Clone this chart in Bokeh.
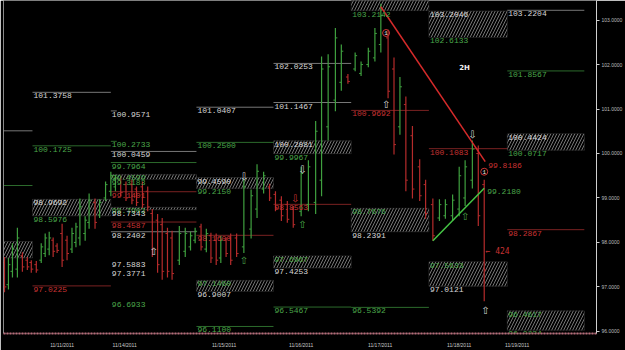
import numpy as np
from bokeh.plotting import figure
from bokeh.models import Range1d, ColumnDataSource, FixedTicker, Span, Label, NumeralTickFormatter
from bokeh.core.properties import value
from bokeh.embed import file_html
from bokeh.resources import INLINE

# ---------------- data ----------------
# bar time (2H bar slots), OHLC
bar_time = [0.15, 0.75, 1.36, 2.11, 2.87, 3.62, 4.22, 4.98, 5.73, 6.33, 6.94, 7.54, 8.14, 8.9, 9.65,
            10.4, 11.0, 11.6, 12.4, 13.0, 13.9, 14.6, 15.5, 16.3, 17.0, 17.8, 18.6, 19.5, 20.2, 21.1,
            21.9, 22.6, 23.4, 24.1, 24.9, 25.6, 26.7, 27.6, 28.4, 29.1, 30.0, 30.8, 31.5, 32.3, 33.0,
            33.8, 34.5, 35.4, 36.5, 37.6, 38.5, 39.5, 40.4, 41.3, 42.2, 43.1, 44.0, 45.2, 46.3, 47.4,
            48.3, 49.3, 50.4, 51.3, 52.3, 53.4, 54.3, 55.4, 56.4, 57.3, 58.4, 59.3, 60.2, 61.1, 62.1,
            63.2, 64.1, 65.2, 66.2, 67.1, 68.2, 69.2, 70.1, 71.2, 72.1, 73.0]
bar_high = [97.67, 97.65, 97.98, 98.33, 97.78, 97.67, 97.60, 97.58, 97.98, 98.20, 98.24, 98.11, 97.98, 98.42, 98.15,
            98.33, 98.44, 98.99, 98.59, 99.10, 98.99, 98.97, 99.37, 99.59, 99.52, 99.48, 99.37, 99.41, 99.26, 99.37,
            99.26, 98.75, 98.64, 98.55, 98.33, 98.26, 98.37, 98.33, 98.24, 98.33, 98.42, 98.31, 98.22, 98.20, 98.15,
            98.11, 98.20, 98.20, 99.43, 99.19, 99.76, 99.59, 99.32, 99.15, 99.04, 98.93, 98.82, 99.70, 99.85, 100.73,
            102.18, 102.23, 102.82, 102.45, 101.79, 102.27, 102.07, 102.38, 102.82, 103.37, 102.78, 102.16, 101.72, 101.28, 100.62,
            99.87, 99.41, 98.99, 98.97, 98.97, 99.08, 99.70, 99.85, 100.29, 100.18, 99.41]
bar_low = [96.88, 96.94, 97.21, 97.21, 97.34, 97.38, 97.32, 97.32, 97.54, 97.67, 97.71, 97.67, 97.76, 97.45, 97.60,
           97.76, 97.89, 97.93, 98.04, 98.31, 98.31, 98.55, 98.93, 99.04, 99.15, 99.04, 98.93, 98.86, 98.82, 98.77,
           98.70, 97.67, 97.32, 97.16, 97.21, 97.16, 97.49, 97.67, 97.82, 97.98, 97.82, 97.78, 97.54, 97.49, 97.54,
           97.67, 97.49, 97.67, 97.76, 98.09, 98.55, 99.10, 98.93, 98.70, 98.48, 98.44, 98.33, 98.59, 98.70, 98.64,
           99.04, 100.29, 100.95, 101.41, 101.57, 101.85, 101.74, 101.94, 102.07, 102.27, 101.24, 99.98, 100.42, 99.15, 98.99,
           98.93, 98.53, 98.04, 98.48, 98.53, 98.48, 98.59, 98.82, 99.21, 98.37, 96.68]
bar_open = [97.55, 97.05, 97.35, 97.40, 97.70, 97.60, 97.55, 97.50, 97.60, 97.75, 97.85, 98.05, 97.92, 98.20, 98.05,
            97.85, 98.00, 98.10, 98.20, 98.45, 98.90, 98.62, 99.00, 99.15, 99.25, 99.40, 99.30, 99.30, 99.20, 99.25,
            99.15, 98.65, 98.50, 98.40, 98.20, 98.10, 97.60, 97.80, 97.90, 98.05, 98.35, 97.85, 98.15, 98.05, 97.65,
            98.05, 98.10, 98.10, 97.90, 98.30, 98.75, 99.20, 99.25, 99.08, 98.95, 98.85, 98.75, 98.70, 98.85, 98.90,
            99.40, 100.60, 101.20, 101.60, 101.72, 101.90, 101.80, 102.00, 102.15, 102.45, 102.60, 101.90, 100.60, 101.10, 100.40,
            99.70, 99.30, 98.85, 98.55, 98.60, 98.60, 98.75, 99.00, 99.40, 100.00, 99.30]
bar_close = [97.00, 97.50, 97.85, 98.10, 97.45, 97.45, 97.40, 97.38, 97.90, 98.10, 98.10, 97.80, 97.82, 97.60, 97.75,
             98.20, 98.35, 98.80, 98.50, 98.95, 98.45, 98.90, 99.30, 99.50, 99.45, 99.12, 99.00, 98.95, 98.90, 98.85,
             98.80, 97.85, 97.50, 97.35, 97.35, 97.30, 98.20, 98.20, 98.15, 98.25, 97.90, 98.20, 97.65, 97.60, 98.05,
             97.75, 97.60, 97.75, 99.25, 99.05, 99.60, 99.50, 99.00, 98.78, 98.60, 98.52, 98.40, 99.55, 99.70, 100.50,
             101.90, 101.95, 102.60, 102.30, 101.62, 102.20, 102.00, 102.30, 102.70, 103.10, 101.40, 100.20, 101.50, 99.40, 99.20,
             99.05, 98.65, 98.15, 98.85, 98.85, 98.95, 99.50, 99.70, 100.10, 98.60, 97.38]

# sessions (start times of the level/zone blocks)
session_start = [0.0, 4.4, 16.3, 29.3, 41.0, 52.8, 64.6, 76.5, 88.2]

# date axis
date_ticks = [8.9, 18.4, 33.5, 45.2, 57.2, 69.2, 78.0]
date_labels = ["11/11/2011", "11/14/2011", "11/15/2011", "11/16/2011", "11/17/2011", "11/18/2011", "11/19/2011"]
price_ticks = [96, 97, 98, 99, 100, 101, 102, 103]

# hatched zones: session index, bottom, top
zone_session = [0, 1, 2, 2, 3, 3, 4, 4, 5, 5, 6, 6, 7, 7]
zone_bottom = [97.65, 98.5976, 99.42, 98.7343, 99.2150, 96.9007, 99.9967, 97.4253, 103.2142, 98.2391, 102.6133, 97.0121, 100.0717, 96.0234]
zone_top = [98.02, 98.9692, 99.53, 98.7902, 99.4590, 97.1460, 100.2881, 97.6967, 103.60, 98.7676, 103.2046, 97.5633, 100.4424, 96.4617]

# level lines spanning a whole session: session index, price, kind
line_session = [0, 0, 1, 1, 1, 2, 2, 2, 2, 2, 3, 3, 3, 3, 4, 4, 4, 4, 5, 5, 6, 7, 7, 7]
line_price = [100.51, 99.28, 101.3758, 100.1725, 97.0225, 100.0459, 99.7964, 99.1401, 98.4587, 98.2402,
              101.0407, 100.2500, 98.1600, 96.1100, 102.0253, 101.1467, 98.8563, 96.5467, 100.9692, 96.5392,
              100.1083, 103.2204, 101.8567, 98.2867]
line_kind = ["w", "g", "w", "g", "r", "w", "g", "r", "r", "w",
             "w", "g", "r", "g", "w", "w", "r", "g", "r", "g",
             "r", "w", "g", "r"]
# short level stubs
stub_start = [16.3, 16.3]
stub_end = [17.2, 17.2]
stub_price = [100.9571, 100.2733]
stub_kind = ["w", "g"]

# level labels: session index, price, text, kind
lab_session = [1, 1, 1, 1, 1,
               2, 2, 2, 2, 2, 2, 2, 2, 2, 2, 2, 2, 2, 2,
               3, 3, 3, 3, 3, 3, 3, 3,
               4, 4, 4, 4, 4, 4, 4, 4,
               5, 5, 5, 5, 5,
               6, 6, 6, 6, 6,
               7, 7, 7, 7, 7, 7, 7]
lab_price = [101.3758, 100.1725, 98.9692, 98.5976, 97.0225,
             100.9571, 100.2733, 100.0459, 99.7964, 99.53, 99.42, 99.1401, 98.7902, 98.7343, 98.4587, 98.2402, 97.5883, 97.3771, 96.6933,
             101.0407, 100.2500, 99.4590, 99.2150, 98.1600, 97.1460, 96.9007, 96.1100,
             102.0253, 101.1467, 100.2881, 99.9967, 98.8563, 97.6967, 97.4253, 96.5467,
             103.2142, 100.9692, 98.7676, 98.2391, 96.5392,
             103.2046, 102.6133, 100.1083, 97.5633, 97.0121,
             103.2204, 101.8567, 100.4424, 100.0717, 98.2867, 96.4617, 96.0234]
lab_text = ["101.3758", "100.1725", "98.9692", "98.5976", "97.0225",
            "100.9571", "100.2733", "100.0459", "99.7964", "99.4599", "99.3183", "99.1401", "98.7902", "98.7343", "98.4587", "98.2402", "97.5883", "97.3771", "96.6933",
            "101.0407", "100.2500", "99.4590", "99.2150", "98.1600", "97.1460", "96.9007", "96.1100",
            "102.0253", "101.1467", "100.2881", "99.9967", "98.8563", "97.6967", "97.4253", "96.5467",
            "103.2142", "100.9692", "98.7676", "98.2391", "96.5392",
            "103.2046", "102.6133", "100.1083", "97.5633", "97.0121",
            "103.2204", "101.8567", "100.4424", "100.0717", "98.2867", "96.4617", "96.0234"]
lab_kind = ["w", "g", "w", "g", "r",
            "w", "g", "w", "g", "g", "g", "r", "g", "w", "r", "w", "w", "w", "g",
            "w", "g", "w", "g", "r", "g", "w", "g",
            "w", "w", "w", "g", "r", "g", "w", "g",
            "g", "r", "g", "w", "g",
            "w", "g", "r", "g", "w",
            "w", "g", "w", "g", "r", "g", "g"]

# trend lines
red_trend_t = [57.3, 73.15]
red_trend_p = [103.30, 99.8186]
green_trend_t = [65.2, 73.0]
green_trend_p = [98.04, 99.2180]

# signal arrows: time, price, direction, kind
arrow_t = [22.8, 36.5, 36.5, 44.3, 45.4, 45.4, 58.1, 71.2, 70.1, 73.2]
arrow_p = [97.80, 99.48, 97.60, 98.99, 99.65, 98.40, 101.11, 100.42, 98.59, 96.48]
arrow_dir = ["up", "down", "up", "down", "down", "up", "up", "down", "up", "up"]
arrow_kind = ["w", "w", "g", "r", "w", "g", "w", "w", "g", "w"]

# numbered marks
mark_t = [58.1, 73.0]
mark_p = [102.71, 99.59]

last_price = 97.3833

# ---------------- styles ----------------
TEXT_COL = {"w": "#d6d6d6", "g": "#4aa64a", "r": "#c83232"}
LINE_COL = {"w": "#777777", "g": "#2c6a2c", "r": "#7a2222"}
UP_COL, DN_COL = "#3fa03f", "#b52b2b"
MONO = value("Liberation Mono")

p = figure(width=625, height=350, x_range=Range1d(0, 90.05), y_range=Range1d(95.952, 103.4405),
           output_backend="svg", toolbar_location=None, y_axis_location="right",
           min_border_left=3, min_border_right=25, min_border_top=0, min_border_bottom=10,
           background_fill_color="black", border_fill_color="black", outline_line_color=None)
p.xgrid.visible = False
p.ygrid.visible = False

# hatched zones
zs = ColumnDataSource(dict(
    left=[session_start[i] for i in zone_session],
    right=[session_start[i + 1] for i in zone_session],
    bottom=zone_bottom, top=zone_top))
p.quad(left="left", right="right", bottom="bottom", top="top", source=zs,
       fill_color="black", fill_alpha=1.0, line_color="#5a5a5a", line_alpha=0.6, line_width=0.5,
       hatch_pattern="right_diagonal_line", hatch_color="#8a8a8a", hatch_scale=6,
       hatch_weight=1, hatch_alpha=0.85)

# level lines
ls = ColumnDataSource(dict(
    x0=[session_start[i] for i in line_session] + stub_start,
    x1=[session_start[i + 1] for i in line_session] + stub_end,
    y=line_price + stub_price,
    c=[LINE_COL[k] for k in line_kind + stub_kind]))
p.segment(x0="x0", y0="y", x1="x1", y1="y", color="c", line_width=1, source=ls)

# bars
t = np.array(bar_time)
o = np.array(bar_open); h = np.array(bar_high); l = np.array(bar_low); c = np.array(bar_close)
cols = [UP_COL if cc >= oo else DN_COL for oo, cc in zip(o, c)]
bs = ColumnDataSource(dict(t=t, tl=t - 0.3, tr=t + 0.3, o=o, h=h, l=l, c=c, col=cols))
p.segment(x0="t", y0="l", x1="t", y1="h", color="col", line_width=1.2, source=bs)
p.segment(x0="tl", y0="o", x1="t", y1="o", color="col", line_width=1, source=bs)
p.segment(x0="t", y0="c", x1="tr", y1="c", color="col", line_width=1, source=bs)

# trend lines
p.line(red_trend_t, red_trend_p, line_color="#d42a2a", line_width=1.5)
p.line(green_trend_t, green_trend_p, line_color="#45c445", line_width=1.5)
p.text(x=[red_trend_t[-1]], y=[red_trend_p[-1]], text=["99.8186"], text_color=TEXT_COL["r"],
       text_font=MONO, text_font_size=value("8px"), text_baseline="top", x_offset=3, y_offset=1)
p.text(x=[green_trend_t[-1]], y=[green_trend_p[-1]], text=["99.2180"], text_color=TEXT_COL["g"],
       text_font=MONO, text_font_size=value("8px"), text_baseline="top", x_offset=3, y_offset=1)

# level labels
lab = ColumnDataSource(dict(
    x=[session_start[i] for i in lab_session], y=lab_price, text=lab_text,
    col=[TEXT_COL[k] for k in lab_kind]))
p.text(x="x", y="y", text="text", text_color="col", source=lab, text_font=MONO,
       text_font_size=value("8px"), text_baseline="top", text_align="left", x_offset=1, y_offset=1)

# arrows
ars = ColumnDataSource(dict(t=arrow_t, p=arrow_p,
                            ch=["\u21e7" if d == "up" else "\u21e9" for d in arrow_dir],
                            col=[TEXT_COL[k] for k in arrow_kind]))
p.text(x="t", y="p", text="ch", text_color="col", source=ars, text_font=value("DejaVu Sans"),
       text_font_size=value("10px"), text_align="center", text_baseline="middle")

# numbered marks
p.scatter(mark_t, mark_p, marker="circle", size=7, fill_color=None, line_color="#cc3434", line_width=1)
p.text(x=mark_t, y=mark_p, text=["1", "1"], text_color="#e6e6e6", text_font=MONO,
       text_font_size=value("6px"), text_align="center", text_baseline="middle")

# extra labels
p.text(x=[73.2], y=[97.80], text=["\u2190 424"], text_color=TEXT_COL["r"], text_font=value("DejaVu Sans Mono"),
       text_font_size=value("8px"), text_baseline="middle")
p.text(x=[69.2], y=[101.92], text=["2H"], text_color="#f0f0f0", text_font=value("DejaVu Sans"),
       text_font_size=value("7px"), text_font_style="bold", text_baseline="middle")

# left border line
p.add_layout(Span(location=0, dimension="height", line_color="#cfcfcf", line_width=1))

# right price axis
ya = p.yaxis[0]
ya.ticker = FixedTicker(ticks=price_ticks)
ya.formatter = NumeralTickFormatter(format="0.0000")
ya.major_label_text_font_size = "5px"
ya.major_label_text_color = "#bdbdbd"
ya.axis_line_color = "#d0d0d0"
ya.major_tick_line_color = "#d0d0d0"
ya.major_tick_out = 3
ya.major_tick_in = 0
ya.minor_tick_line_color = None
ya.major_label_standoff = 2

# bottom date axis
xa = p.xaxis[0]
xa.ticker = FixedTicker(ticks=date_ticks)
xa.major_label_overrides = {tk: lb for tk, lb in zip(date_ticks, date_labels)}
xa.major_label_text_font_size = "5px"
xa.major_label_text_color = "#c8c8c8"
xa.axis_line_color = "#b86a78"
xa.axis_line_width = 2
xa.axis_line_dash = "2 1"
xa.major_tick_line_color = None
xa.minor_tick_line_color = None
xa.major_label_standoff = 2

# last price box
p.add_layout(Label(x=90.4, y=last_price, text="97.3833", text_font_size="5px", text_color="black",
                   background_fill_color="white", text_baseline="middle"))

open("out.html", "w").write(file_html(p, INLINE))
